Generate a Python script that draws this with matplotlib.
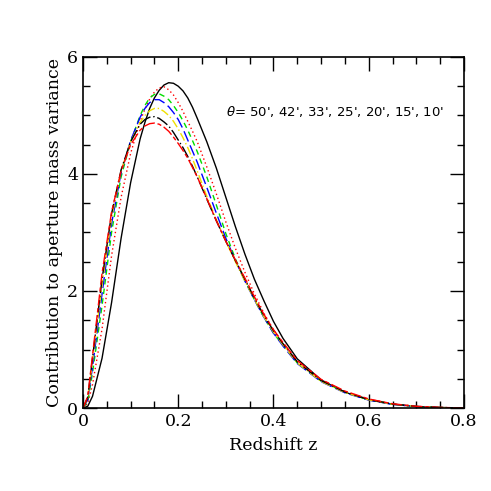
import matplotlib
matplotlib.use("Agg")
import matplotlib.pyplot as plt
from matplotlib.ticker import MultipleLocator

# redshift grid
z = [0.0, 0.01, 0.02, 0.04, 0.06, 0.08, 0.10, 0.12, 0.13, 0.14, 0.15, 0.16,
     0.17, 0.18, 0.19, 0.20, 0.21, 0.22, 0.23, 0.24, 0.26, 0.28, 0.30, 0.32,
     0.34, 0.36, 0.38, 0.40, 0.42, 0.45, 0.50, 0.55, 0.60, 0.65, 0.70, 0.75, 0.80]

# contribution to the aperture mass variance, one list per aperture
v50 = [0.0, 0.03, 0.20, 0.85, 1.80, 2.90, 3.85, 4.60, 4.88, 5.12, 5.30, 5.43,
       5.52, 5.56, 5.55, 5.50, 5.42, 5.30, 5.14, 4.95, 4.55, 4.10, 3.60, 3.10,
       2.63, 2.20, 1.83, 1.48, 1.19, 0.84, 0.48, 0.27, 0.14, 0.065, 0.025, 0.008, 0.0]
v42 = [0.0, 0.08, 0.40, 1.35, 2.60, 3.60, 4.35, 4.90, 5.11, 5.28, 5.40, 5.47,
       5.49, 5.44, 5.35, 5.22, 5.07, 4.90, 4.73, 4.55, 4.12, 3.66, 3.18, 2.73,
       2.32, 1.95, 1.62, 1.33, 1.10, 0.80, 0.48, 0.28, 0.15, 0.07, 0.028, 0.009, 0.001]
v33 = [0.0, 0.11, 0.60, 1.75, 3.00, 3.95, 4.55, 5.00, 5.17, 5.30, 5.36, 5.37,
       5.33, 5.27, 5.17, 5.05, 4.91, 4.75, 4.57, 4.38, 3.95, 3.47, 2.98, 2.55,
       2.18, 1.85, 1.55, 1.28, 1.07, 0.77, 0.46, 0.27, 0.14, 0.065, 0.026, 0.008, 0.0]
v25 = [0.0, 0.14, 0.70, 1.95, 3.15, 4.02, 4.57, 4.97, 5.12, 5.22, 5.27, 5.27,
       5.22, 5.15, 5.05, 4.93, 4.77, 4.58, 4.39, 4.20, 3.77, 3.33, 2.90, 2.52,
       2.17, 1.85, 1.55, 1.28, 1.06, 0.76, 0.45, 0.26, 0.135, 0.062, 0.025, 0.008, 0.0]
v20 = [0.0, 0.16, 0.80, 2.10, 3.25, 4.05, 4.55, 4.88, 5.00, 5.08, 5.12, 5.12,
       5.07, 5.00, 4.90, 4.77, 4.62, 4.45, 4.26, 4.05, 3.62, 3.22, 2.85, 2.50,
       2.17, 1.86, 1.56, 1.30, 1.08, 0.77, 0.455, 0.265, 0.14, 0.065, 0.026, 0.008, 0.0]
v15 = [0.0, 0.18, 0.85, 2.20, 3.32, 4.07, 4.55, 4.85, 4.93, 4.97, 4.98, 4.95,
       4.89, 4.82, 4.71, 4.58, 4.45, 4.30, 4.13, 3.95, 3.57, 3.20, 2.85, 2.52,
       2.20, 1.88, 1.58, 1.32, 1.10, 0.79, 0.47, 0.275, 0.145, 0.068, 0.027, 0.009, 0.0]
v10 = [0.0, 0.20, 0.90, 2.30, 3.35, 4.05, 4.50, 4.75, 4.82, 4.86, 4.87, 4.85,
       4.80, 4.73, 4.63, 4.52, 4.40, 4.27, 4.11, 3.95, 3.58, 3.20, 2.85, 2.53,
       2.22, 1.90, 1.60, 1.34, 1.12, 0.81, 0.49, 0.29, 0.155, 0.072, 0.029, 0.01, 0.001]

plt.rcParams['font.family'] = ['DejaVu Serif']

fig = plt.figure(figsize=(4.91, 4.91), dpi=100)
ax = fig.add_axes([0.169, 0.169, 0.776, 0.715])

lw = 1.0
ax.plot(z, v50, color='black', lw=lw, ls='-')
ax.plot(z, v42, color='red', lw=lw, ls=(0, (1, 2)))
ax.plot(z, v33, color='#00dd00', lw=lw, ls=(0, (4, 3)))
ax.plot(z, v25, color='blue', lw=lw, ls=(0, (8, 3)))
ax.plot(z, v20, color='#f0e000', lw=lw, ls=(0, (6, 2, 1, 2)))
ax.plot(z, v15, color='black', lw=lw, ls=(0, (9, 2, 1, 2)))
ax.plot(z, v10, color='red', lw=lw, ls=(0, (8, 2, 3, 2)))

ax.set_xlim(0, 0.8)
ax.set_ylim(0, 6)
ax.xaxis.set_major_locator(MultipleLocator(0.2))
ax.xaxis.set_minor_locator(MultipleLocator(0.05))
ax.yaxis.set_major_locator(MultipleLocator(2))
ax.yaxis.set_minor_locator(MultipleLocator(0.5))
ax.xaxis.set_major_formatter(plt.FuncFormatter(lambda x, p: '0' if x == 0 else f'{x:.1f}'))
ax.tick_params(which='both', direction='in', top=True, right=True, labelsize=12.5)
ax.tick_params(which='major', length=10, width=1)
ax.tick_params(which='minor', length=5, width=1)
for s in ax.spines.values():
    s.set_linewidth(1.2)

ax.set_xlabel('Redshift z', fontsize=12.5, labelpad=5)
ax.set_ylabel('Contribution to aperture mass variance', fontsize=12.5, labelpad=3)

ax.text(0.30, 5.06, r"$\theta$= 50', 42', 33', 25', 20', 15', 10'",
        family='DejaVu Sans', fontsize=9.5, va='center', ha='left')

fig.savefig('out.png', dpi=100)
